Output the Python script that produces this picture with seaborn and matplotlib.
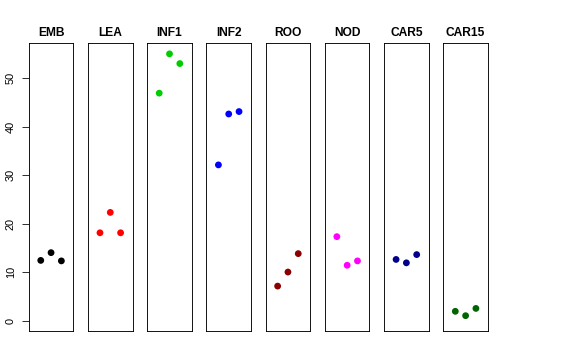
import pandas as pd
import matplotlib
matplotlib.use("Agg")
import matplotlib.pyplot as plt
import seaborn as sns

# tissues and the three replicate values per tissue
tissues = ['EMB', 'LEA', 'INF1', 'INF2', 'ROO', 'NOD', 'CAR5', 'CAR15']
replicate = [1, 2, 3]
emb = [12.4, 14.0, 12.3]
lea = [18.1, 22.3, 18.1]
inf1 = [46.9, 55.0, 53.0]
inf2 = [32.1, 42.6, 43.1]
roo = [7.1, 10.0, 13.8]
nod = [17.3, 11.4, 12.3]
car5 = [12.6, 11.9, 13.6]
car15 = [1.9, 1.0, 2.5]
colors = ['#000000', '#FF0000', '#00CD00', '#0000FF',
          '#8B0000', '#FF00FF', '#00008B', '#006400']
y_ticks = [0, 10, 20, 30, 40, 50]

values = [emb, lea, inf1, inf2, roo, nod, car5, car15]
rows = []
for t, vals in zip(tissues, values):
    for r, v in zip(replicate, vals):
        rows.append({'tissue': t, 'rep': r, 'value': v})
df = pd.DataFrame(rows)

sns.set_style("white")
plt.rcParams['font.family'] = ['Liberation Sans', 'DejaVu Sans']
plt.rcParams['text.color'] = 'black'
plt.rcParams['ytick.color'] = 'black'

fig, axes = plt.subplots(1, 8, figsize=(8, 5), dpi=72, sharey=True)
fig.subplots_adjust(left=0.050, right=0.847, top=0.880, bottom=0.080, wspace=0.33)

for i, (ax, t, c) in enumerate(zip(axes, tissues, colors)):
    sub = df[df['tissue'] == t]
    sns.scatterplot(data=sub, x='rep', y='value', color=c, s=46,
                    edgecolor='none', ax=ax, legend=False)
    ax.set_xlim(-0.16, 4.16)
    ax.set_ylim(-2.2, 57.2)
    ax.set_xticks([])
    ax.set_xlabel('')
    ax.set_ylabel('')
    ax.set_title(t, fontsize=12, fontweight='bold', pad=7, color='black')
    for sp in ax.spines.values():
        sp.set_visible(True)
        sp.set_color('black')
        sp.set_linewidth(0.9)
    if i == 0:
        ax.set_yticks(y_ticks)
        ax.tick_params(axis='y', left=True, length=7, width=0.8, labelsize=11,
                       labelrotation=90, pad=6, colors='black')
        for lab in ax.get_yticklabels():
            lab.set_va('center')
    else:
        ax.tick_params(axis='y', left=False, labelleft=False)

fig.savefig('out.png', dpi=72)
